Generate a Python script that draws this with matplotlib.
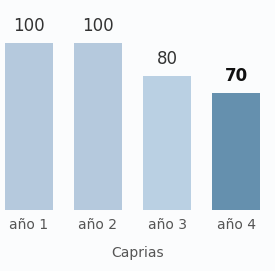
import matplotlib.pyplot as plt
import numpy as np

categorias = ['año 1', 'año 2', 'año 3', 'año 4']
valores = [100, 100, 80, 70]
colores = ['#b5c9dd', '#b5c9dd', '#bad0e3', '#6590ae']

fig = plt.figure(figsize=(2.75, 2.71), dpi=100)
fig.patch.set_facecolor('#fbfcfd')
ax = fig.add_axes([0, 0.225, 1, 0.775])
ax.set_facecolor('none')

x = np.arange(len(categorias))
barras = ax.bar(x, valores, width=0.7, color=colores)
etiquetas = ax.bar_label(barras, padding=6, fontsize=12, color='#333333')
etiquetas[-1].set_color('#111111')
etiquetas[-1].set_fontweight('bold')

ax.set_xlim(-0.42, 3.565)
ax.set_ylim(0, 125.7)
ax.set_xticks(x)
ax.set_xticklabels(categorias, fontsize=10, color='#555555')
ax.tick_params(axis='x', length=0, pad=6)
ax.set_yticks([])
for s in ax.spines.values():
    s.set_visible(False)
ax.set_xlabel('Caprias', fontsize=10, color='#555555', labelpad=10)

fig.savefig('out.png', dpi=100)
